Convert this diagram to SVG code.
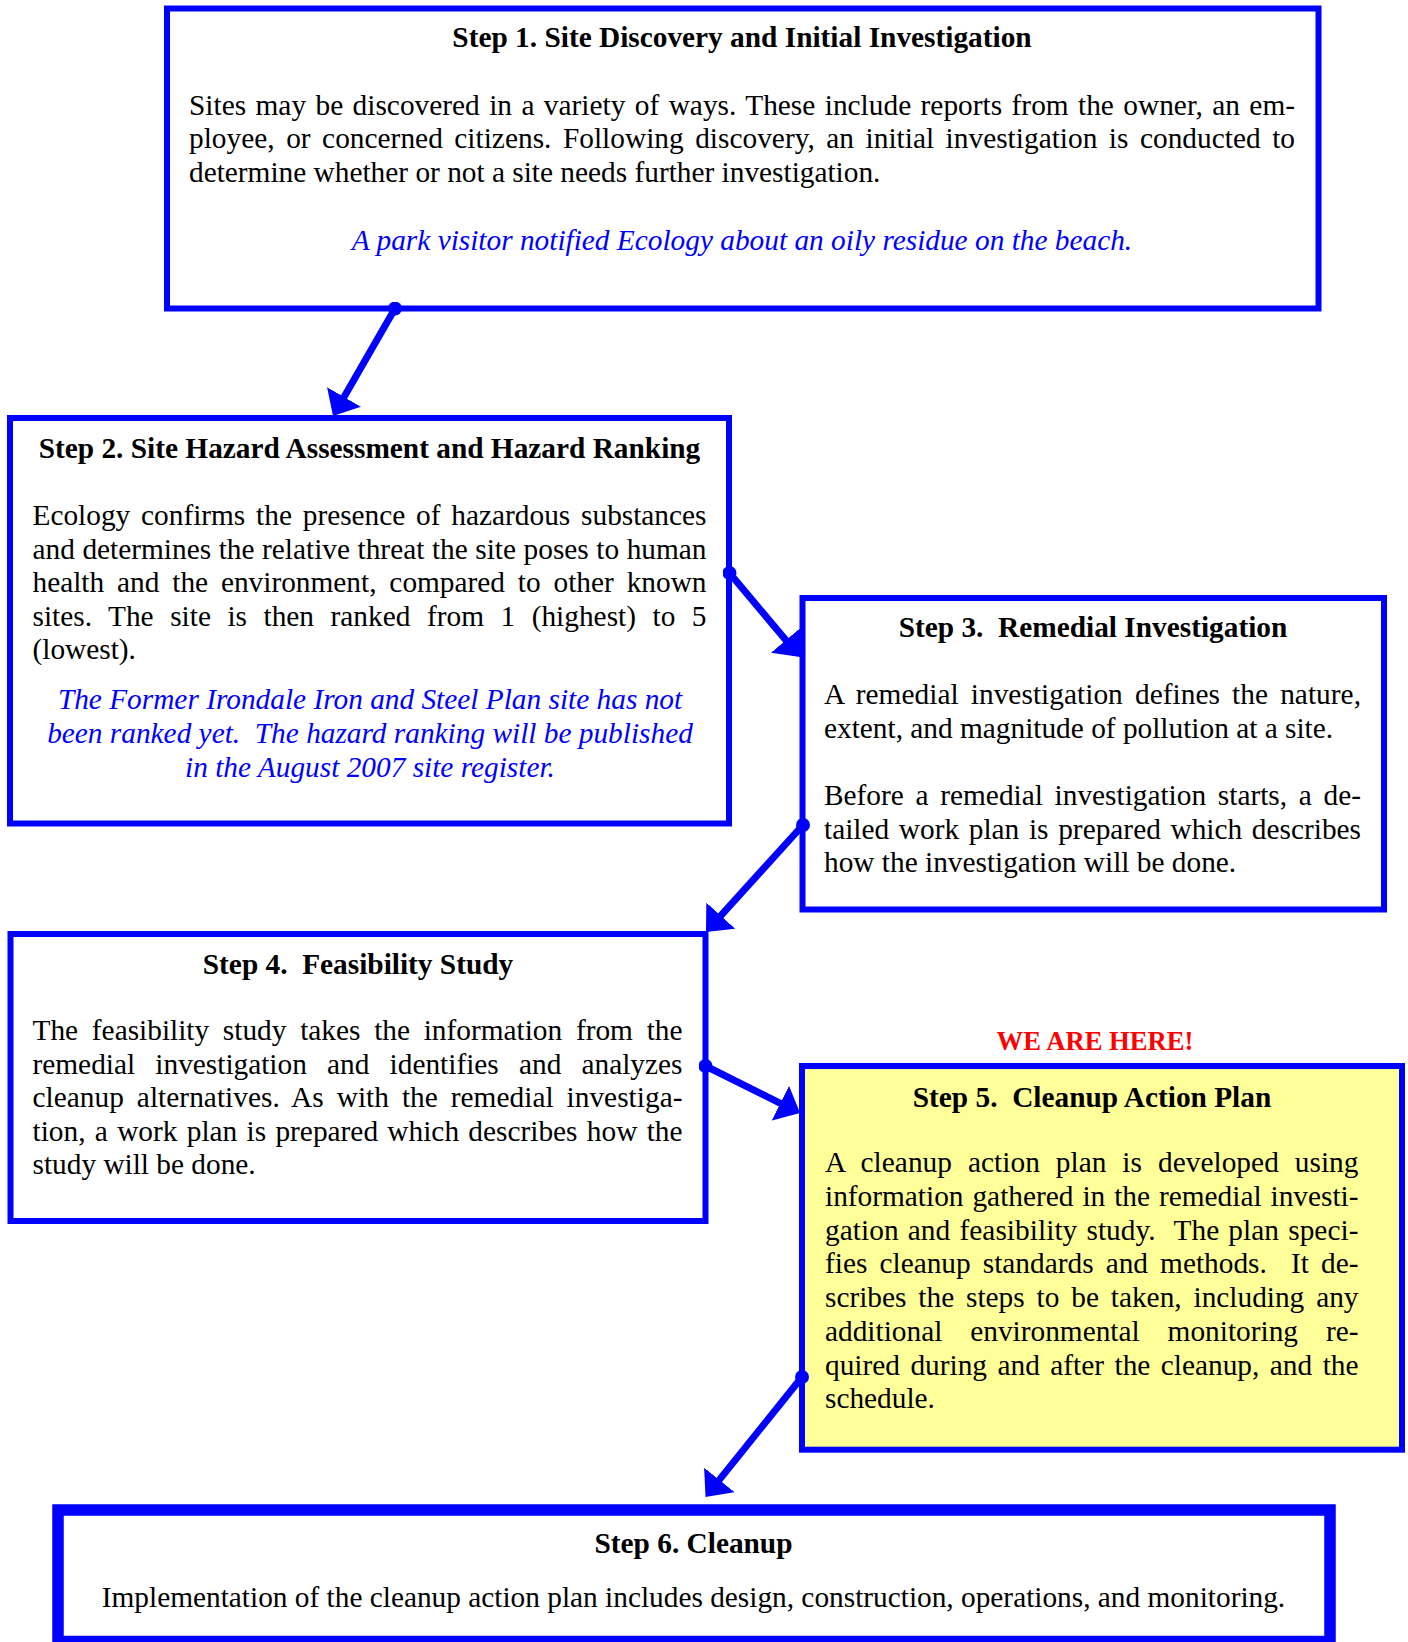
<svg xmlns="http://www.w3.org/2000/svg" width="1408" height="1642" viewBox="0 0 1408 1642">
<style>
.box{fill:#FFFFFF;stroke:#0000FF;stroke-width:6}
.here{fill:#FFFF99}
.thick{stroke-width:11.5}
text{font-family:"Liberation Serif","Times New Roman",serif;font-size:29.33px;fill:#000000}
.t{font-weight:bold;text-anchor:middle}
.i{font-style:italic;fill:#0000FF;text-anchor:middle}
.c{text-anchor:middle}
.red{fill:#FF0000;font-weight:bold;font-size:26.67px;text-anchor:middle}
.conn{stroke:#0000FF;stroke-width:7;fill:none;marker-start:url(#dot);marker-end:url(#arrow)}
</style>
<defs>
<marker id="arrow" viewBox="0 0 22 39" refX="8" refY="19.5" markerWidth="22" markerHeight="39" markerUnits="userSpaceOnUse" orient="auto">
<path d="M0,0 L22,19.5 L0,39 Z" fill="#0000FF"/>
</marker>
<marker id="dot" viewBox="0 0 14 14" refX="7" refY="7" markerWidth="14" markerHeight="14" markerUnits="userSpaceOnUse">
<circle cx="7" cy="7" r="7" fill="#0000FF"/>
</marker>
</defs>
<rect width="1408" height="1642" fill="#FFFFFF"/>

<g id="step1">
<rect class="box" x="167" y="8.5" width="1151.5" height="300"/>
<text class="t" x="742" y="46.7">Step 1. Site Discovery and Initial Investigation</text>
<text x="189" y="115" style="word-spacing:2.03px" textLength="1106" lengthAdjust="spacing">Sites may be discovered in a variety of ways. These include reports from the owner, an em-</text>
<text x="189" y="148.3" style="word-spacing:4.12px" textLength="1106" lengthAdjust="spacing">ployee, or concerned citizens. Following discovery, an initial investigation is conducted to</text>
<text x="189" y="181.7">determine whether or not a site needs further investigation.</text>
<text class="i" x="742" y="250">A park visitor notified Ecology about an oily residue on the beach.</text>
</g>

<g id="step2">
<rect class="box" x="10" y="418" width="719" height="405.5"/>
<text class="t" x="369.5" y="458">Step 2. Site Hazard Assessment and Hazard Ranking</text>
<text x="32.5" y="525" style="word-spacing:3.47px" textLength="674" lengthAdjust="spacing">Ecology confirms the presence of hazardous substances</text>
<text x="32.5" y="558.5" style="word-spacing:0.22px" textLength="674" lengthAdjust="spacing">and determines the relative threat the site poses to human</text>
<text x="32.5" y="592" style="word-spacing:5.52px" textLength="674" lengthAdjust="spacing">health and the environment, compared to other known</text>
<text x="32.5" y="625.5" style="word-spacing:9.16px" textLength="674" lengthAdjust="spacing">sites. The site is then ranked from 1 (highest) to 5</text>
<text x="32.5" y="659">(lowest).</text>
<text class="i" x="370" y="709">The Former Irondale Iron and Steel Plan site has not</text>
<text class="i" x="370" y="743">been ranked yet.&#160; The hazard ranking will be published</text>
<text class="i" x="370" y="777">in the August 2007 site register.</text>
</g>

<g id="step3">
<rect class="box" x="802.5" y="598" width="581.5" height="311.5"/>
<text class="t" x="1093" y="637">Step 3.&#160; Remedial Investigation</text>
<text x="824" y="704" style="word-spacing:4.77px" textLength="537" lengthAdjust="spacing">A remedial investigation defines the nature,</text>
<text x="824" y="737.5">extent, and magnitude of pollution at a site.</text>
<text x="824" y="805" style="word-spacing:4.39px" textLength="537" lengthAdjust="spacing">Before a remedial investigation starts, a de-</text>
<text x="824" y="838.5" style="word-spacing:2.35px" textLength="537" lengthAdjust="spacing">tailed work plan is prepared which describes</text>
<text x="824" y="872">how the investigation will be done.</text>
</g>

<g id="step4">
<rect class="box" x="10.5" y="934" width="695" height="287"/>
<text class="t" x="358" y="974">Step 4.&#160; Feasibility Study</text>
<text x="32.5" y="1040" style="word-spacing:6.4px" textLength="650" lengthAdjust="spacing">The feasibility study takes the information from the</text>
<text x="32.5" y="1073.5" style="word-spacing:12.87px" textLength="650" lengthAdjust="spacing">remedial investigation and identifies and analyzes</text>
<text x="32.5" y="1107" style="word-spacing:5.57px" textLength="650" lengthAdjust="spacing">cleanup alternatives. As with the remedial investiga-</text>
<text x="32.5" y="1140.5" style="word-spacing:1.99px" textLength="650" lengthAdjust="spacing">tion, a work plan is prepared which describes how the</text>
<text x="32.5" y="1174">study will be done.</text>
</g>

<g id="step5">
<text class="red" x="1095" y="1050">WE ARE HERE!</text>
<rect class="box here" x="802" y="1066" width="600" height="383.7"/>
<text class="t" x="1092" y="1106.7">Step 5.&#160; Cleanup Action Plan</text>
<text x="825" y="1172" style="word-spacing:8.54px" textLength="533.5" lengthAdjust="spacing">A cleanup action plan is developed using</text>
<text x="825" y="1205.5" style="word-spacing:1.61px" textLength="533.5" lengthAdjust="spacing">information gathered in the remedial investi-</text>
<text x="825" y="1239.5" style="word-spacing:1.74px" textLength="533.5" lengthAdjust="spacing">gation and feasibility study.&#160; The plan speci-</text>
<text x="825" y="1273" style="word-spacing:4.77px" textLength="533.5" lengthAdjust="spacing">fies cleanup standards and methods.&#160; It de-</text>
<text x="825" y="1307" style="word-spacing:4.53px" textLength="533.5" lengthAdjust="spacing">scribes the steps to be taken, including any</text>
<text x="825" y="1340.5" style="word-spacing:20.6px" textLength="533.5" lengthAdjust="spacing">additional environmental monitoring re-</text>
<text x="825" y="1374.5" style="word-spacing:3.14px" textLength="533.5" lengthAdjust="spacing">quired during and after the cleanup, and the</text>
<text x="825" y="1408">schedule.</text>
</g>

<g id="step6">
<rect class="box thick" x="58" y="1510" width="1272" height="131.5"/>
<text class="t" x="693.5" y="1552.7">Step 6. Cleanup</text>
<text class="c" x="693.5" y="1606.7">Implementation of the cleanup action plan includes design, construction, operations, and monitoring.</text>
</g>

<g id="connectors">
<line class="conn" x1="395" y1="308.5" x2="340" y2="403.9"/>
<line class="conn" x1="729.5" y1="573" x2="791" y2="646.3"/>
<line class="conn" x1="803" y1="825" x2="715.4" y2="921.6"/>
<line class="conn" x1="705.5" y1="1066" x2="787.5" y2="1106.8"/>
<line class="conn" x1="802" y1="1377" x2="714.3" y2="1486.1"/>
</g>
</svg>
